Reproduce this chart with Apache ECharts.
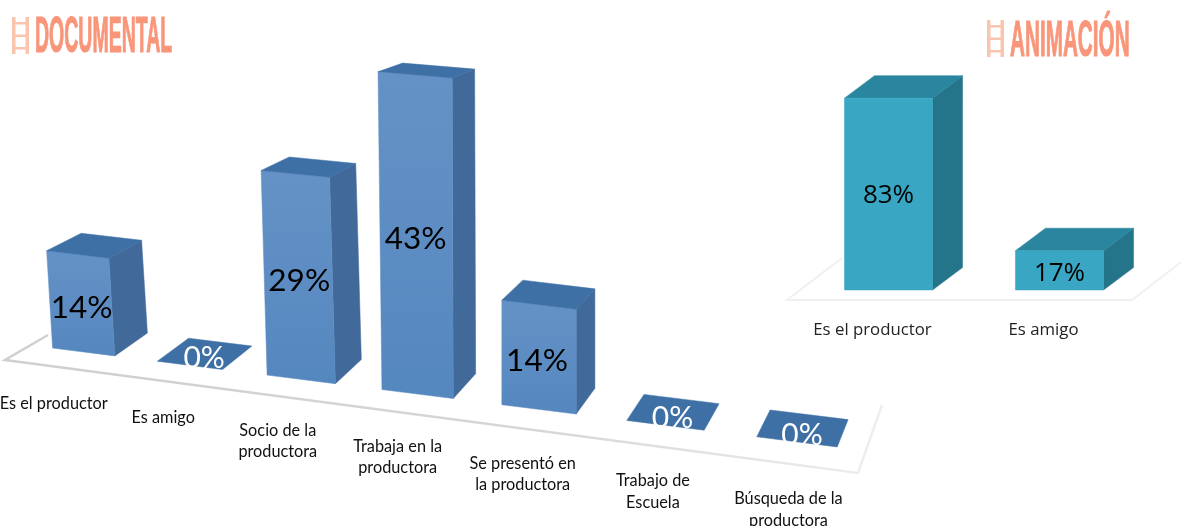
<!DOCTYPE html>
<html><head><meta charset="utf-8">
<style>html,body{margin:0;padding:0;background:#fff}#c{width:1181px;height:526px}</style>
<script src="https://cdn.jsdelivr.net/npm/echarts@6/dist/echarts.min.js"></script>
</head><body><div id="c"></div>
<script>
const docCategories = ['Es el productor','Es amigo','Socio de la\nproductora','Trabaja en la\nproductora','Se presentó en\nla productora','Trabajo de\nEscuela','Búsqueda de la\nproductora'];
const docValues = [14,0,29,43,14,0,0];
const aniCategories = ['Es el productor','Es amigo'];
const aniValues = [83,17];

const SALMON = '#F9967A', SALMON_LT = '#FBC4AF';
const chart = echarts.init(document.getElementById('c'), null, {renderer:'canvas'});

/* perspective applied to the left chart, on top of the scales' pixel output */
const BAND = 119, T0 = 83.5, BASE_Y = 348, SLOPE = 0.126;
const warp = t => { const u = (t - T0) / BAND; return T0 + 103.7*u + 2.53*u*u; };
const groundY = x => BASE_Y + SLOPE * (x - 52);
const scaleAt = x => {
  if (x < 330) return 0.975 + 0.00007 * x;
  if (x < 390) return 0.998 + (x - 330) * 0.05 / 60;
  return 1.048 + 0.00003 * (x - 390);
};
const lean = x => -6 * Math.min(1, Math.max(0, (480 - x) / 150));
const depth = (x, y) => [36 - 0.03 * x, -(5 + 0.05 * y)];

function renderDoc(params, api) {
  const i = api.value(0), v = api.value(1);
  const c0 = api.coord([i, 0]), c1 = api.coord([i, v]);
  const band = api.size([1, 0])[0];
  const h = c0[1] - c1[1];
  const xl = warp(c0[0] - band * 0.3), xr = warp(c0[0] + band * 0.3);
  const bl = [xl, groundY(xl)], br = [xr, groundY(xr)];
  const top = x => [x + (v ? lean(x) : 0), groundY(x) - h * scaleAt(x)];
  const tl = top(xl), tr = top(xr);
  const back = p => { const d = depth(p[0], p[1]); return [p[0] + d[0], p[1] + d[1]]; };
  const tlb = back(tl), trb = back(tr), brb = back(br);
  const poly = (points, fill) => ({type:'polygon', shape:{points}, style:{fill, stroke:fill, lineWidth:0.5}});
  const children = [];
  if (v > 0) {
    children.push(poly([br, tr, trb, brb], '#41699A'));
    children.push(poly([bl, tl, tr, br], {type:'linear',x:0,y:0,x2:0,y2:1,colorStops:[{offset:0,color:'#6492C6'},{offset:1,color:'#5587BF'}]}));
  }
  children.push(poly([tl, tlb, trb, tr], '#3E70A5'));
  const xm = (xl + xr) / 2, ym = groundY(xm);
  const lx = v ? xm - 2 : xm + depth(xm, ym)[0] / 2 - 1;
  const ly = v ? (tl[1] + bl[1]) / 2 + 8 : ym - 7;
  children.push({type:'text', z2:5, style:{text: v + '%', x:lx, y:ly, align:'center', verticalAlign:'middle',
    fontFamily:'Lato', fontSize: v ? 31.5 : 30, fill: v ? '#000' : '#fff'}});
  const name = docCategories[i], lines = name.split('\n').length;
  const labelY = ym + 50 + (lines - 1) * 12 + (lines === 1 ? 2 : Math.max(0, (xm - 300) * 0.012));
  children.push({type:'text', z2:5, style:{text:name, x: xm - 30 + 0.03 * (xm - 83), y: labelY,
    align:'center', verticalAlign:'middle', fontFamily:'Lato', fontSize:16.3, lineHeight:21.5, fill:'#111'}});
  return {type:'group', children};
}

function renderAni(params, api) {
  const i = api.value(0), v = api.value(1);
  const c0 = api.coord([i, 0]), c1 = api.coord([i, v]);
  const w = api.size([1, 0])[0] * 0.515;
  const xl = c0[0] - w / 2, xr = c0[0] + w / 2, yb = c0[1], yt = c1[1];
  const dx = 30, dy = -22.5;
  const poly = (points, fill) => ({type:'polygon', shape:{points}, style:{fill, stroke:fill, lineWidth:0.5}});
  return {type:'group', children:[
    poly([[xr,yb],[xr,yt],[xr+dx,yt+dy],[xr+dx,yb+dy]], '#24758A'),
    poly([[xl,yt],[xl+dx,yt+dy],[xr+dx,yt+dy],[xr,yt]], '#2A869E'),
    poly([[xl,yb],[xl,yt],[xr,yt],[xr,yb]], '#39A7C3'),
    {type:'text', z2:5, style:{text:v+'%', x:c0[0], y:(i ? yt+22.5 : (yt+yb)/2+2), align:'center', verticalAlign:'middle',
      fontFamily:'Open Sans', fontSize:26, fill:'#000'}},
    {type:'text', z2:5, style:{text:aniCategories[i], x:c0[0]-16, y:330.5, align:'center', verticalAlign:'middle',
      fontFamily:'Open Sans', fontSize:16.8, fill:'#222'}}
  ]};
}

function ladder(x, y) {
  const rect = (rx, ry, w, h) => ({type:'rect', shape:{x:rx, y:ry, width:w, height:h}, style:{fill:SALMON_LT}});
  return {type:'group', children:[
    rect(x, y, 3.5, 37), rect(x+13.5, y, 3.5, 37),
    rect(x+3, y+5, 11, 2.5), rect(x+3, y+17.5, 11, 2.5), rect(x+3, y+30, 11, 2.5)
  ]};
}
const title = (text, x, yOff, scaleX) => ({type:'text', x, y:yOff, scaleX, style:{text, x:0, y:56.5,
  verticalAlign:'bottom', align:'left', fontFamily:'Liberation Sans', fontWeight:'bold', fontSize:50,
  fill:SALMON, stroke:SALMON, lineWidth:1.2}});

chart.setOption({
  animation:false,
  backgroundColor:'#fff',
  grid:[
    {left:24, width:BAND*7, top:28.5, height:319.5},
    {left:803, width:342, top:82, height:208}
  ],
  xAxis:[
    {type:'category', gridIndex:0, data:docCategories, show:false},
    {type:'category', gridIndex:1, data:aniCategories, show:false}
  ],
  yAxis:[
    {type:'value', gridIndex:0, min:0, max:45, show:false},
    {type:'value', gridIndex:1, min:0, max:90, show:false}
  ],
  series:[
    {type:'custom', xAxisIndex:0, yAxisIndex:0, encode:{x:0,y:1}, renderItem:renderDoc, data:docValues.map((v,i)=>[i,v]), silent:true, clip:false},
    {type:'custom', xAxisIndex:1, yAxisIndex:1, encode:{x:0,y:1}, renderItem:renderAni, data:aniValues.map((v,i)=>[i,v]), silent:true, clip:false}
  ],
  graphic:[
    {type:'polyline', shape:{points:[[48,335],[5,360],[858,473],[882,405]]}, style:{fill:null, lineWidth:2.5,
      stroke:{type:'linear',x:0,y:0,x2:1,y2:0,colorStops:[{offset:0,color:'#CFCFCF'},{offset:0.6,color:'#D6D6D6'},{offset:1,color:'#EEEEEE'}]}}},
    {type:'polyline', shape:{points:[[842,258],[787,300],[1132,300],[1181,262]]}, style:{stroke:'#F0F0F0', lineWidth:2, fill:null}},
    ladder(12,17),
    ladder(987,20),
    title('DOCUMENTAL',35,7,0.39),
    title('ANIMACIÓN',1010,11,0.414)
  ]
});
</script></body></html>
